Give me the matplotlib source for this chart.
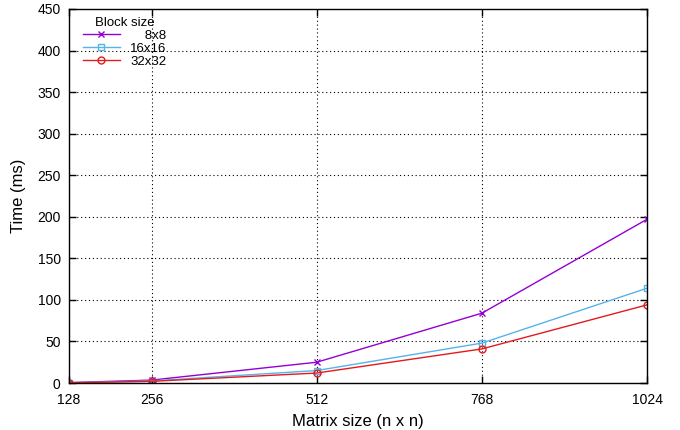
import numpy as np
from matplotlib import pyplot as plt

sizes = [128, 256, 512, 768, 1024]
time_8 = [0.5, 3.5, 25, 84, 197]
time_16 = [0.3, 2.5, 15, 48, 114]
time_32 = [0.2, 2.0, 12, 41, 94]
# figure spaces pad the short label so the legend texts line up on the right
labels = ['\u2007\u20078x8', '16x16', '32x32']

def plotter():
    plt.rcParams['font.family'] = ['Liberation Sans', 'DejaVu Sans']
    fig = plt.figure(figsize=(6.8, 4.3), dpi=100)
    ax = fig.add_axes([0.1015, 0.1093, 0.85, 0.8698])
    ax.plot(sizes, time_8, '-', color='#9400d3', marker='x', ms=5, mew=1, lw=1, label=labels[0])
    ax.plot(sizes, time_16, '-', color='#56b4e9', marker='s', ms=5, mfc='none', mew=1, lw=1, label=labels[1])
    ax.plot(sizes, time_32, '-', color='#e41a1c', marker='o', ms=5, mfc='none', mew=1, lw=1, label=labels[2])
    ax.set_xlim(128, 1024)
    ax.set_ylim(0, 450)
    ax.set_xticks(sizes)
    ax.set_yticks(np.arange(0, 451, 50))
    ax.tick_params(direction='in', top=True, right=True, labelsize=10, length=5, width=1)
    ax.tick_params(axis='x', pad=7)
    ax.tick_params(axis='y', pad=6)
    ax.grid(True, color='black', linestyle=(0, (1, 2.5)), linewidth=0.8)
    for s in ax.spines.values():
        s.set_linewidth(1)
    ax.set_xlabel('Matrix size (n x n)', fontsize=12, labelpad=5)
    ax.set_ylabel('Time (ms)', fontsize=12, labelpad=8)
    ax.legend(title='Block size', loc='upper left', bbox_to_anchor=(0.01, 1.0), frameon=False,
              fontsize=9.5, title_fontsize=9.5, handlelength=2.8, handletextpad=0.8,
              borderaxespad=0.2, labelspacing=0.05, markerfirst=True)
    fig.savefig('out.png', dpi=100)

if __name__ == '__main__':
    plotter()
